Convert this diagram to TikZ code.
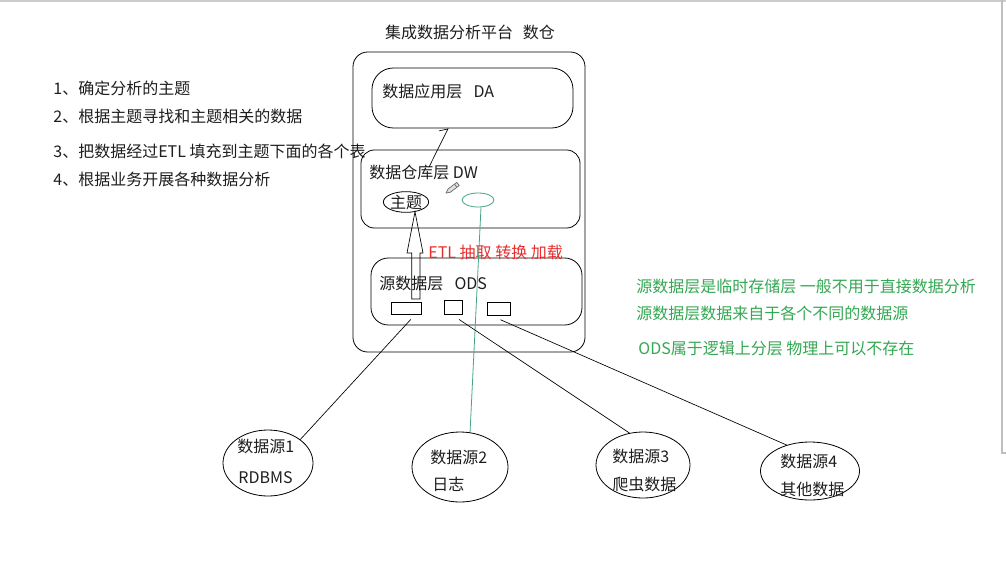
\documentclass[tikz,border=0pt]{standalone}
\usepackage{fontspec}
\setmainfont{Noto Sans CJK SC}
\usetikzlibrary{shapes.geometric,calc}
\definecolor{notegreen}{RGB}{52,168,83}
\definecolor{linegreen}{RGB}{70,165,130}
\definecolor{etlred}{RGB}{232,45,45}
\definecolor{txt}{RGB}{30,30,30}
\begin{document}
\begin{tikzpicture}[x=0.75pt,y=-0.75pt,
  font=\fontsize{12}{14}\selectfont,
  line width=0.6pt,
  txtnode/.style={inner sep=0pt,anchor=west,text=txt},
  note/.style={inner sep=0pt,anchor=west,text=notegreen},
  layerbox/.style={draw,rectangle,inner sep=0pt},
  smallbox/.style={draw,rectangle,inner sep=0pt},
  srcell/.style={draw,ellipse,inner sep=0pt},
  link/.style={draw,line width=0.5pt}
]
\useasboundingbox[fill=white] (0,0) rectangle (1006,561);
% window edge
\draw[gray!40,line width=1pt] (0,1) -- (1006,1);
\draw[gray!50,line width=0.8pt] (1002,0) -- (1002,453) -- (1006,453);

% title
\node[inner sep=0pt,text=txt] (title) at (470,32) {集成数据分析平台\hspace{0.6em}数仓};

% left list
\node[txtnode] (l1) at (53,88) {1、确定分析的主题};
\node[txtnode] (l2) at (53,116) {2、根据主题寻找和主题相关的数据};
\node[txtnode] (l3) at (53,151) {3、把数据经过ETL 填充到主题下面的各个表};
\node[txtnode] (l4) at (53,179) {4、根据业务开展各种数据分析};

% outer platform box
\node[layerbox,rounded corners=11pt,minimum width=174pt,minimum height=225pt] (plat) at (469,202) {};
% DA
\node[layerbox,rounded corners=16pt,minimum width=150.75pt,minimum height=45pt] (da) at (472.5,98) {};
\node[txtnode] (datxt) at (382,91) {数据应用层\hspace{0.7em}DA};
% DW
\node[layerbox,rounded corners=10pt,minimum width=164.25pt,minimum height=58.5pt] (dw) at (470.5,189) {};
\node[txtnode] (dwtxt) at (369,172) {数据仓库层 DW};
\node[srcell,minimum width=27pt,minimum height=13.5pt,text=txt] (topic) at (406,202) {主题};
% pencil
\filldraw[draw=gray!80!black,fill=gray!25,line width=0.5pt]
  (446,193) -- (450.4,192.2) -- (459.2,185.6) -- (456.8,182.4) -- (448,189) -- cycle;
\draw[gray!80!black,line width=0.5pt] (456.5,186.8) -- (454.6,184.2);
\node[draw=linegreen,ellipse,inner sep=0pt,minimum width=24pt,minimum height=10.5pt] (ge) at (478,200) {};
% ODS
\node[layerbox,rounded corners=13pt,minimum width=158.25pt,minimum height=50.25pt] (ods) at (476.5,291.5) {};
\node[txtnode] (odstxt) at (379,283) {源数据层\hspace{0.7em}ODS};
\node[smallbox,minimum width=22.5pt,minimum height=9pt] (b1) at (406.8,308) {};
\node[smallbox,minimum width=13.5pt,minimum height=10.5pt] (b2) at (453,307) {};
\node[smallbox,minimum width=17.5pt,minimum height=9.5pt] (b3) at (499,309) {};

% ETL label
\node[inner sep=0pt,anchor=west,text=etlred] (etl) at (428,252) {ETL 抽取 转换 加载};

% hollow arrow ODS -> topic
\coordinate (tip) at ([shift={(9,-1)}]topic.south);
\draw[line width=0.5pt] (tip) -- (423,253) -- (420,253) -- (420,299) -- (411.7,299) -- (411.7,253) -- (407,253) -- cycle;

% DW -> DA hand-drawn arrow
\coordinate (dwp) at (429,167);
\coordinate (dap) at ([shift={(-24.5,0.5)}]da.south);
\draw[link] (dwp) -- (dap) -- ++(-9,2);

% green line
\draw[linegreen,line width=0.6pt] ([shift={(3,0)}]ge.south) -- (470,433);

% sources
\node[srcell,minimum width=67.5pt,minimum height=49.5pt] (s1) at (268,463) {};
\node[txtnode] (s1a) at (237,446) {数据源1};
\node[txtnode] (s1b) at (238,478) {RDBMS};
\node[srcell,minimum width=72pt,minimum height=52.5pt] (s2) at (460,467) {};
\node[txtnode] (s2a) at (430,457) {数据源2};
\node[txtnode] (s2b) at (432,484) {日志};
\node[srcell,minimum width=70.5pt,minimum height=49.5pt] (s3) at (643,465) {};
\node[txtnode] (s3a) at (612,456) {数据源3};
\node[txtnode] (s3b) at (612,484) {爬虫数据};
\node[srcell,minimum width=74.25pt,minimum height=43.5pt] (s4) at (810,471) {};
\node[txtnode] (s4a) at (780,461) {数据源4};
\node[txtnode] (s4b) at (780,489) {其他数据};

% connectors from ODS boxes to sources
\draw[link] ([shift={(4,5)}]b1.south) -- (s1.36);
\draw[link] ([shift={(6,5)}]b2.south) -- (s3.113);
\draw[link] ([shift={(1.5,4)}]b3.south) -- (s4.132);

% green notes
\node[note] (n1) at (636,286) {源数据层是临时存储层 一般不用于直接数据分析};
\node[note] (n2) at (636,313) {源数据层数据来自于各个不同的数据源};
\node[note] (n3) at (638,348) {ODS属于逻辑上分层 物理上可以不存在};
\end{tikzpicture}
\end{document}
